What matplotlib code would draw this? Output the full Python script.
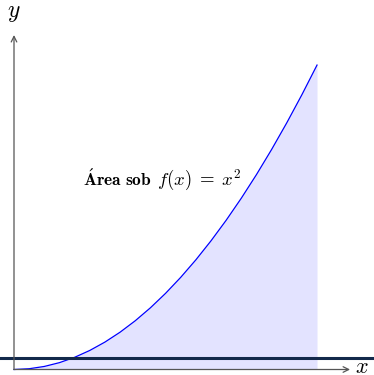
import matplotlib
matplotlib.use("Agg")
import matplotlib.pyplot as plt

plt.rcParams["mathtext.fontset"] = "cm"

# values
x_vals = [0.0, 0.1, 0.2, 0.3, 0.4, 0.5, 0.6, 0.7, 0.8, 0.9, 1.0,
          1.1, 1.2, 1.3, 1.4, 1.5, 1.6, 1.7, 1.8, 1.9, 2.0]
y_vals = [0.0, 0.01, 0.04, 0.09, 0.16, 0.25, 0.36, 0.49, 0.64, 0.81, 1.0,
          1.21, 1.44, 1.69, 1.96, 2.25, 2.56, 2.89, 3.24, 3.61, 4.0]
ref_level = 0.155
label_word = r"$\mathbf{\acute{A}rea\ sob}$"
label_math = r"$f(x)\;=\;x^2$"

fig = plt.figure(figsize=(3.74, 3.75), dpi=100)
ax = fig.add_axes([0, 0, 1, 1])
ax.set_xlim(-0.0924, 2.376)
ax.set_ylim(-0.0723, 4.855)
ax.axis("off")

ax.fill_between(x_vals, y_vals, 0, color="blue", alpha=0.11, linewidth=0)
ax.plot(x_vals, y_vals, color="blue", linewidth=0.9)

ax.axhline(ref_level, color="#13294b", linewidth=2.2)

arrow = dict(arrowstyle="->", color="#555555", linewidth=0.9, shrinkA=0, shrinkB=0)
ax.annotate("", xy=(2.218, 0), xytext=(0, 0), arrowprops=arrow)
ax.annotate("", xy=(0, 4.395), xytext=(0, 0), arrowprops=arrow)

ax.text(2.295, -0.04, r"$x$", fontsize=16, ha="center", va="baseline")
ax.text(0.0, 4.70, r"$y$", fontsize=17, ha="center", va="center")

ax.text(0.455, 2.415, label_word, fontsize=12.5, ha="left", va="baseline")
ax.text(0.944, 2.415, label_math, fontsize=13.5, ha="left", va="baseline")

fig.savefig("out.png", dpi=100)
